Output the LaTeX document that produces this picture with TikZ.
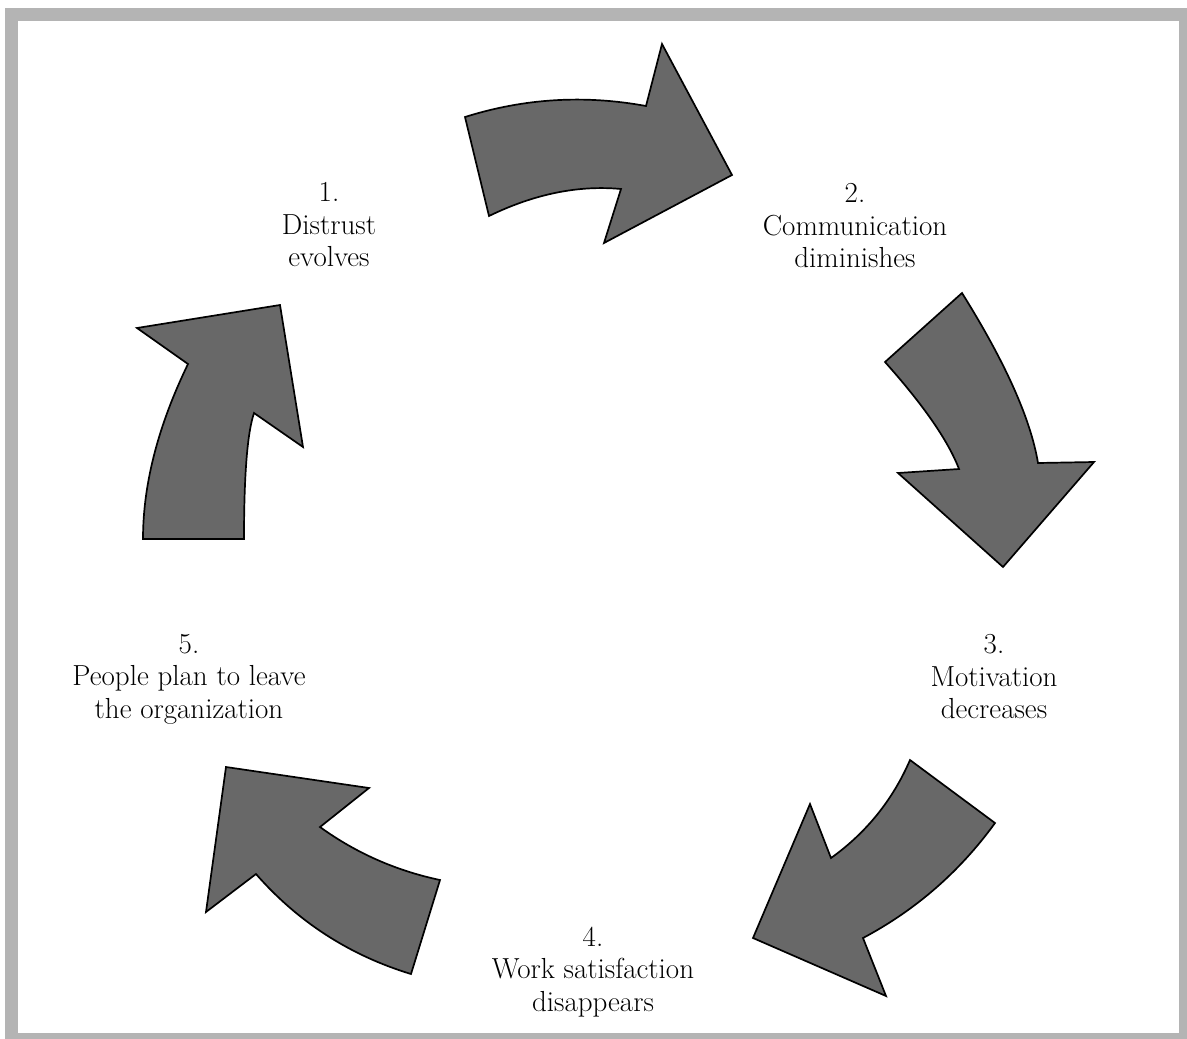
\documentclass[tikz,border=0pt]{standalone}
\usepackage{fontspec}
\definecolor{framegray}{RGB}{180,180,180}
\definecolor{arrowgray}{RGB}{104,104,104}
\begin{document}
\begin{tikzpicture}[x=1pt,y=-1pt,
  cyclearrow/.style={fill=arrowgray, draw=black, line width=1.7pt, line join=miter},
  steplabel/.style={align=center, inner sep=0pt, font=\fontsize{29}{32.5}\selectfont}]
\useasboundingbox (0,0) rectangle (1187,1039);
% light grey frame round the page
\fill[framegray] (5,8) rectangle (1187,1039);
\fill[white] (18,21) rectangle (1179,1033);

% step labels
\node[steplabel] (s1) at (329,225) {1.\\Distrust\\evolves};
\node[steplabel] (s2) at (855,226) {2.\\Communication\\diminishes};
\node[steplabel] (s3) at (994,677) {3.\\Motivation\\decreases};
\node[steplabel] (s4) at (593,972) {4.\\Work satisfaction\\disappears};
\node[steplabel] (s5) at (189,679) {5.\\People plan to leave\\the organization};

% curved block arrows of the cycle
% 1 -> 2
\draw[cyclearrow] (465,117) .. controls (524.3,98.3) and (584.7,94.7) .. (646,106)
  -- (662,44) -- (732,175) -- (604,243) -- (621,189)
  .. controls (578.3,185) and (534.3,194) .. (489,216) -- cycle;
% 2 -> 3
\draw[cyclearrow] (885,362) .. controls (923.7,405.3) and (948.3,441) .. (959,469)
  -- (898,473) -- (1003,567) -- (1094,462) -- (1038,463)
  .. controls (1030.7,419) and (1005.3,362.3) .. (962,293) -- cycle;
% 3 -> 4
\draw[cyclearrow] (910,760) -- (995,823)
  .. controls (959.7,871.7) and (915.7,910) .. (863,938)
  -- (886,996) -- (753,938) -- (810,804) -- (831,858)
  .. controls (866.3,832.7) and (892.7,800) .. (910,760) -- cycle;
% 4 -> 5
\draw[cyclearrow] (440,880) -- (411,974)
  .. controls (349.7,955.3) and (298,922) .. (256,874)
  -- (206,912) -- (226,767) -- (369,788) -- (320,827)
  .. controls (356,853) and (396,870.7) .. (440,880) -- cycle;
% 5 -> 1
\draw[cyclearrow] (244,539) .. controls (244,475) and (247.3,433) .. (254,413)
  -- (303,447) -- (280,305) -- (137,328) -- (188,364)
  .. controls (158,426) and (143,484.3) .. (143,539) -- cycle;
\end{tikzpicture}
\end{document}
